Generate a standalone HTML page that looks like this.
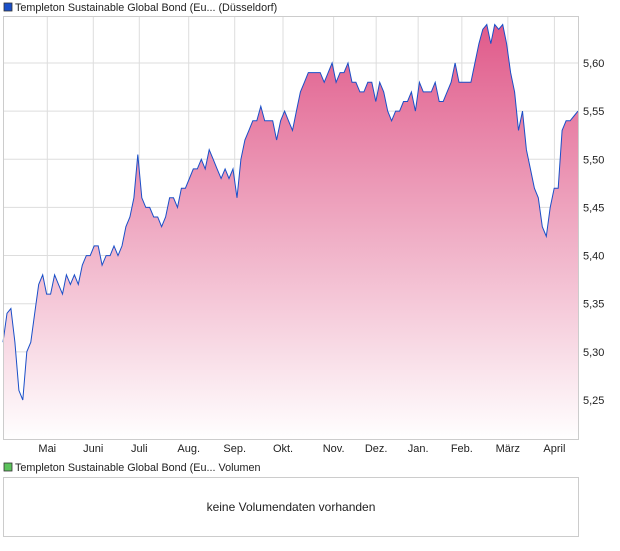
<!DOCTYPE html>
<html><head><meta charset="utf-8"><style>
body{margin:0;background:#fff;font-family:"Liberation Sans",Arial,sans-serif;}
svg text{font-family:"Liberation Sans",Arial,sans-serif;font-size:11px;fill:#222;}
</style></head><body>
<svg width="620" height="546">
<defs><linearGradient id="g" x1="0" y1="0" x2="0" y2="1">
<stop offset="0" stop-color="#e05a8a"/><stop offset="1" stop-color="#ffffff"/></linearGradient></defs>
<rect x="4" y="3" width="8" height="8" fill="#1a4fc8" stroke="#333" stroke-width="0.8"/>
<text x="15" y="11" style="font-size:10.8px">Templeton Sustainable Global Bond (Eu... (Düsseldorf)</text>
<g id="grid"></g>
<path id="area" fill="url(#g)"/>
<path id="line" fill="none" stroke="#1a4fc8" stroke-width="1"/>
<rect x="3.5" y="16.5" width="575" height="423" fill="none" stroke="#ccc"/>
<g id="ylab"></g><g id="xlab"></g>
<rect x="4" y="463" width="8" height="8" fill="#5cc35c" stroke="#333" stroke-width="0.8"/>
<text x="15" y="471" style="font-size:10.8px">Templeton Sustainable Global Bond (Eu... Volumen</text>
<rect x="3.5" y="477.5" width="575" height="59" fill="#fff" stroke="#ccc"/>
<text x="291" y="511" text-anchor="middle" style="font-size:12px">keine Volumendaten vorhanden</text>
</svg>
<script>
const prices=[5.31,5.34,5.345,5.31,5.26,5.25,5.30,5.31,5.34,5.37,5.38,5.36,5.36,5.38,5.37,5.36,5.38,5.37,5.38,5.37,5.39,5.40,5.40,5.41,5.41,5.39,5.40,5.40,5.41,5.40,5.41,5.43,5.44,5.46,5.505,5.46,5.45,5.45,5.44,5.44,5.43,5.44,5.46,5.46,5.45,5.47,5.47,5.48,5.49,5.49,5.50,5.49,5.51,5.50,5.49,5.48,5.49,5.48,5.49,5.46,5.50,5.52,5.53,5.54,5.54,5.555,5.54,5.54,5.54,5.52,5.54,5.55,5.54,5.53,5.55,5.57,5.58,5.59,5.59,5.59,5.59,5.58,5.59,5.60,5.58,5.59,5.59,5.60,5.58,5.58,5.57,5.57,5.58,5.58,5.56,5.58,5.57,5.55,5.54,5.55,5.55,5.56,5.56,5.57,5.55,5.58,5.57,5.57,5.57,5.58,5.56,5.56,5.57,5.58,5.60,5.58,5.58,5.58,5.58,5.60,5.62,5.635,5.64,5.62,5.64,5.635,5.64,5.62,5.59,5.57,5.53,5.55,5.51,5.49,5.47,5.46,5.43,5.42,5.45,5.47,5.47,5.53,5.54,5.54,5.545,5.55];
const yTicks=[5.25,5.30,5.35,5.40,5.45,5.50,5.55,5.60];
const yTickLabels=["5,25","5,30","5,35","5,40","5,45","5,50","5,55","5,60"];
const months=["Mai","Juni","Juli","Aug.","Sep.","Okt.","Nov.","Dez.","Jan.","Feb.","März","April"];
const monthPos=[0.077,0.157,0.237,0.323,0.403,0.487,0.575,0.649,0.722,0.798,0.878,0.959];
const X0=3,X1=578,YB=440;
const y=v=>63+(5.60-v)/0.05*48.14;
const x=i=>X0+i*(X1-X0)/(prices.length-1);
const ns="http://www.w3.org/2000/svg";
function mk(t,a,p){const e=document.createElementNS(ns,t);for(const k in a)e.setAttribute(k,a[k]);p.appendChild(e);return e;}
const grid=document.getElementById('grid'),yl=document.getElementById('ylab'),xl=document.getElementById('xlab');
yTicks.forEach((v,i)=>{
 const l=mk('line',{x1:X0,x2:X1,y1:y(v),y2:y(v),stroke:'#ddd'},grid);
 
 
 const t=mk('text',{x:583,y:y(v)+4},yl);t.textContent=yTickLabels[i];
 
 
});
months.forEach((m,i)=>{
 const px=X0+monthPos[i]*(X1-X0);
 const l=mk('line',{x1:px,x2:px,y1:16,y2:YB,stroke:'#ddd'},grid);
 
 
 const t=mk('text',{x:px,y:452,'text-anchor':'middle'},xl);t.textContent=m;
 
 
});
let d='';prices.forEach((v,i)=>{d+=(i?'L':'M')+x(i).toFixed(1)+' '+y(v).toFixed(1);});
document.getElementById('line').setAttribute('d',d);
document.getElementById('area').setAttribute('d',d+`L${X1} ${YB}L${X0} ${YB}Z`);
</script>
</body></html>
